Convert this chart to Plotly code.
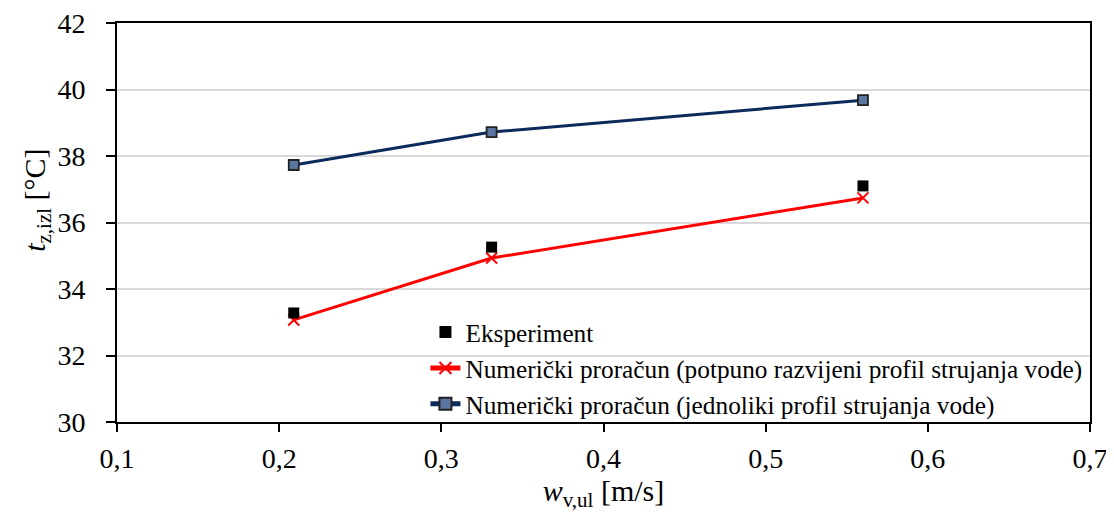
import plotly.graph_objects as go

w = [0.209, 0.331, 0.560]
t_exp = [33.28, 35.26, 37.10]
t_num_razv = [33.07, 34.93, 36.74]
t_num_jedn = [37.73, 38.72, 39.68]

names = ["Eksperiment",
         "Numerički proračun (potpuno razvijeni profil strujanja vode)",
         "Numerički proračun (jednoliki profil strujanja vode)"]

fig = go.Figure()
fig.add_trace(go.Scatter(x=w, y=t_num_jedn, mode="lines+markers", name=names[2],
                         line=dict(color="#0d2a5c", width=3),
                         marker=dict(symbol="square", size=10, color="#5a76a0",
                                     line=dict(color="#222222", width=1.8))))
fig.add_trace(go.Scatter(x=w, y=t_num_razv, mode="lines+markers", name=names[1],
                         line=dict(color="#ff0000", width=3),
                         marker=dict(symbol="x-thin", size=11, color="#ff0000",
                                     line=dict(color="#ff0000", width=2))))
fig.add_trace(go.Scatter(x=w, y=t_exp, mode="markers", name=names[0],
                         marker=dict(symbol="square", size=11, color="#000000")))

font = "Liberation Serif"
# page body has an 8px margin; figure size/margins compensate for it
fig.update_layout(
    width=1106, height=504,
    margin=dict(l=109, r=24, t=15, b=90, autoexpand=False),
    paper_bgcolor="white", plot_bgcolor="white",
    separators=", ",
    font=dict(family=font, size=28, color="#000000"),
    showlegend=True,
    legend=dict(x=0.317, y=0.283, xanchor="left", yanchor="top",
                bgcolor="rgba(0,0,0,0)", font=dict(size=25.3, family=font),
                traceorder="reversed", tracegroupgap=0, itemsizing="constant"),
    xaxis=dict(range=[0.1, 0.7], dtick=0.1, tick0=0.1, tickformat=".1f",
               automargin=False, ticklabeloverflow="allow",
               showline=True, linecolor="black", linewidth=2, mirror=True,
               ticks="outside", ticklen=8, tickwidth=2, tickcolor="black",
               showgrid=False, zeroline=False, ticklabelstandoff=2,
               tickfont=dict(size=28, family=font),
               title=dict(text="<i>w</i><sub>v,ul</sub> [m/s]", standoff=12,
                          font=dict(size=30, family=font))),
    yaxis=dict(range=[30, 42], dtick=2, automargin=False, ticklabeloverflow="allow",
               showline=True, linecolor="black", linewidth=2, mirror=True,
               ticks="outside", ticklen=9, tickwidth=2, tickcolor="black",
               showgrid=True, gridcolor="#d9d9d9", gridwidth=1.5, zeroline=False,
               ticklabelstandoff=15,
               tickfont=dict(size=28, family=font)),
    annotations=[dict(text="<i>t</i><sub>z,izl</sub> [°C]", textangle=-90,
                      xref="paper", yref="paper", x=-0.083, y=0.555,
                      xanchor="center", yanchor="middle", showarrow=False,
                      font=dict(size=30, family=font))],
)
fig.write_html("out.html")
